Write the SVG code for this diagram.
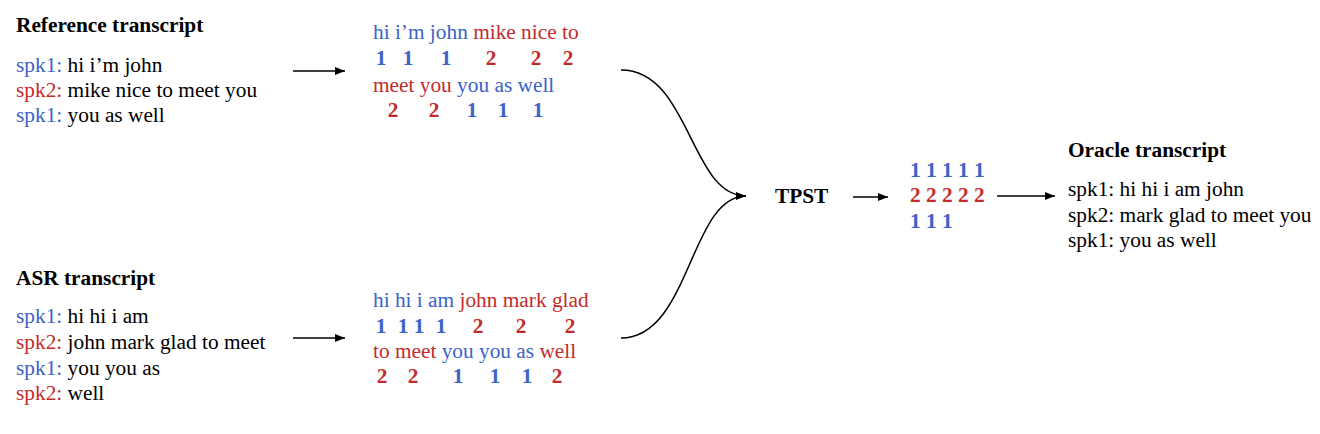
<svg xmlns="http://www.w3.org/2000/svg" width="1320" height="434" viewBox="0 0 1320 434">
<style>
text{font-family:"Liberation Serif","Times New Roman",serif;font-size:21.33px;fill:#000}
.b{font-weight:bold}
.bl{fill:#3b63c8}
.rd{fill:#c42b2b}
.n{font-weight:bold;text-anchor:middle}
.c{fill:none;stroke:#000;stroke-width:1.5}
</style>
<defs>
<marker id="ah" viewBox="0 0 10 8" refX="10" refY="4" markerWidth="10" markerHeight="8" markerUnits="userSpaceOnUse" orient="auto">
<path d="M0,0 L10,4 L0,8 Z" fill="#000"/>
</marker>
</defs>
<rect width="1320" height="434" fill="#fff"/>
<g id="connectors">
<line class="c" x1="293" y1="71" x2="345" y2="71" marker-end="url(#ah)"/>
<line class="c" x1="293" y1="338" x2="345" y2="338" marker-end="url(#ah)"/>
<path class="c" d="M621,70 C690,70 690,196 746,196" marker-end="url(#ah)"/>
<path class="c" d="M621,338 C690,338 690,196 746,196"/>
<line class="c" x1="853" y1="197" x2="888" y2="197" marker-end="url(#ah)"/>
<line class="c" x1="997" y1="196" x2="1055" y2="196" marker-end="url(#ah)"/>
</g>
<g id="reference-transcript">
<text class="b" x="16" y="32">Reference transcript</text>
<text x="16" y="72"><tspan class="bl">spk1:</tspan> hi i’m john</text>
<text x="16" y="97"><tspan class="rd">spk2:</tspan> mike nice to meet you</text>
<text x="16" y="122"><tspan class="bl">spk1:</tspan> you as well</text>
</g>
<g id="asr-transcript">
<text class="b" x="16" y="285">ASR transcript</text>
<text x="16" y="323"><tspan class="bl">spk1:</tspan> hi hi i am</text>
<text x="16" y="349"><tspan class="rd">spk2:</tspan> john mark glad to meet</text>
<text x="16" y="375"><tspan class="bl">spk1:</tspan> you you as</text>
<text x="16" y="400"><tspan class="rd">spk2:</tspan> well</text>
</g>
<g id="reference-tokens">
<text x="373" y="39"><tspan class="bl">hi i’m john </tspan><tspan class="rd">mike nice to</tspan></text>
<text class="n bl" x="381" y="65">1</text>
<text class="n bl" x="408" y="65">1</text>
<text class="n bl" x="446" y="65">1</text>
<text class="n rd" x="491" y="65">2</text>
<text class="n rd" x="536" y="65">2</text>
<text class="n rd" x="568" y="65">2</text>
<text x="373" y="92"><tspan class="rd">meet you </tspan><tspan class="bl">you as well</tspan></text>
<text class="n rd" x="393" y="117">2</text>
<text class="n rd" x="434" y="117">2</text>
<text class="n bl" x="472" y="117">1</text>
<text class="n bl" x="503" y="117">1</text>
<text class="n bl" x="538" y="117">1</text>
</g>
<g id="asr-tokens">
<text x="373" y="307"><tspan class="bl">hi hi i am </tspan><tspan class="rd">john mark glad</tspan></text>
<text class="n bl" x="381" y="333">1</text>
<text class="n bl" x="403" y="333">1</text>
<text class="n bl" x="419" y="333">1</text>
<text class="n bl" x="441" y="333">1</text>
<text class="n rd" x="478" y="333">2</text>
<text class="n rd" x="521" y="333">2</text>
<text class="n rd" x="570" y="333">2</text>
<text x="373" y="358"><tspan class="rd">to meet </tspan><tspan class="bl">you you as </tspan><tspan class="rd">well</tspan></text>
<text class="n rd" x="382" y="383">2</text>
<text class="n rd" x="413" y="383">2</text>
<text class="n bl" x="458" y="383">1</text>
<text class="n bl" x="495" y="383">1</text>
<text class="n bl" x="527" y="383">1</text>
<text class="n rd" x="557" y="383">2</text>
</g>
<g id="tpst">
<text class="b" x="775" y="203">TPST</text>
</g>
<g id="oracle-labels">
<text class="b bl" x="910" y="177">1 1 1 1 1</text>
<text class="b rd" x="910" y="202">2 2 2 2 2</text>
<text class="b bl" x="910" y="228">1 1 1</text>
</g>
<g id="oracle-transcript">
<text class="b" x="1068" y="157">Oracle transcript</text>
<text x="1068" y="196">spk1: hi hi i am john</text>
<text x="1068" y="222">spk2: mark glad to meet you</text>
<text x="1068" y="247">spk1: you as well</text>
</g>
</svg>
